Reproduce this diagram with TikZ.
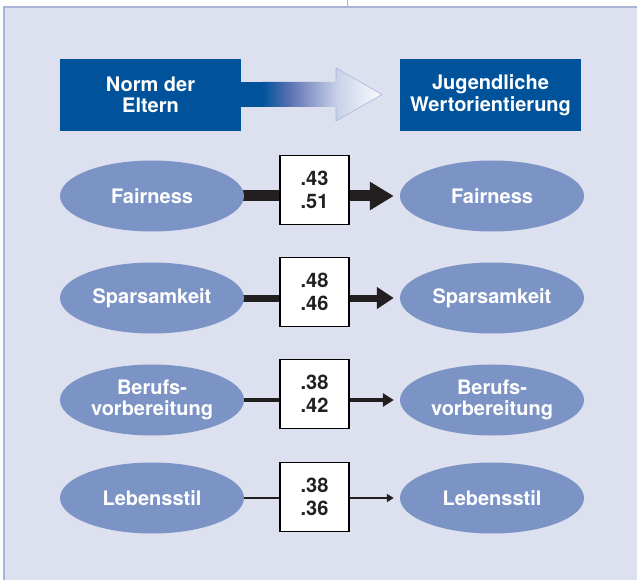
\documentclass[tikz,border=0pt]{standalone}
\usepackage{fontspec}
\setmainfont{TeX Gyre Heros}
\usetikzlibrary{arrows.meta,shapes.geometric}
\definecolor{bgc}{HTML}{DDE0EF}
\definecolor{framec}{HTML}{A9B4D8}
\definecolor{boxblue}{HTML}{00539B}
\definecolor{ellblue}{HTML}{7B93C5}
\definecolor{numtext}{HTML}{231F20}
\definecolor{sA}{HTML}{5C72B2}
\definecolor{sB}{HTML}{A0AED4}
\definecolor{sC}{HTML}{C8D0E8}
\definecolor{sD}{HTML}{E4E8F4}
\definecolor{sE}{HTML}{FAFAFD}
\pgfdeclarehorizontalshading{fadearrow}{100bp}{color(0bp)=(boxblue); color(25bp)=(boxblue); color(36.7bp)=(sA); color(49bp)=(sB); color(56bp)=(sC); color(66bp)=(sD); color(75bp)=(sE); color(100bp)=(sE)}
\pgfdeclarelayer{bglayer}
\pgfdeclarelayer{linelayer}
\pgfsetlayers{bglayer,linelayer,main}
\newcommand\hfont{\fontsize{20}{21.5}\selectfont\bfseries}
\newcommand\nfont{\fontsize{20}{23}\selectfont\bfseries}
\tikzset{
  hdr/.style={fill=boxblue, text=white, minimum width=181pt, minimum height=72pt, inner sep=0pt, align=center, font=\hfont},
  ell/.style={ellipse, fill=ellblue, text=white, minimum width=184pt, minimum height=71pt, inner sep=0pt, align=center, font=\hfont},
  num/.style={draw=black, line width=1.4pt, fill=white, minimum width=69pt, minimum height=69pt, inner sep=0pt, align=center, font=\nfont, text=numtext},
  conn/.style={draw=numtext, line width=#1},
}
\begin{document}
\begin{tikzpicture}[x=1pt,y=-1pt]
\useasboundingbox (0,0) rectangle (637,580);
\begin{pgfonlayer}{bglayer}
\fill[bgc] (4,7) rectangle (637,580);
\draw[framec, line width=1.2pt] (4,580) -- (4,7) -- (637,7);
\draw[framec, line width=1pt] (347,0) -- (347,7);
\end{pgfonlayer}

% header boxes
\node[hdr] (norm) at (150.5,95) {Norm der\\Eltern};
\node[hdr] (jug) at (490.5,95) {Jugendliche\\Wertorientierung};

% gradient arrow
\fill[boxblue] (norm.east) ++(-1,-12.5) rectangle (263,107);
\shade[shading=fadearrow] (262,82) -- (336,82) -- (336,68) -- (382,94.5) -- (336,121) -- (336,107) -- (262,107) -- cycle;
\draw[framec, line width=0.6pt] (336,82) -- (336,68) -- (382,94.5) -- (336,121) -- (336,107);

% rows
\node[ell] (l1) at (152,196) {Fairness};
\node[ell] (r1) at (492,196) {Fairness};
\node[num] (b1) at (314.5,190) {.43\\.51};

\node[ell] (l2) at (152,298) {Sparsamkeit};
\node[ell] (r2) at (492,298) {Sparsamkeit};
\node[num] (b2) at (314.5,292) {.48\\.46};

\node[ell] (l3) at (152,400) {Berufs-\\vorbereitung};
\node[ell] (r3) at (492,400) {Berufs-\\vorbereitung};
\node[num] (b3) at (314.5,394) {.38\\.42};

\node[ell] (l4) at (152,498) {Lebensstil};
\node[ell] (r4) at (492,498) {Lebensstil};
\node[num] (b4) at (314.5,497) {.38\\.36};

\begin{pgfonlayer}{linelayer}
\draw[conn=11pt] (l1.center) -- (l1.center -| b1.center);
\draw[conn=11pt, -{Triangle[length=24pt,width=27pt]}, shorten >=6pt] (b1.center |- r1.west) -- (r1.west);
\draw[conn=7pt] (l2.center) -- (l2.center -| b2.center);
\draw[conn=7pt, -{Triangle[length=17pt,width=21pt]}, shorten >=6pt] (b2.center |- r2.west) -- (r2.west);
\draw[conn=4.5pt] (l3.center) -- (l3.center -| b3.center);
\draw[conn=4.5pt, -{Triangle[length=11pt,width=13pt]}, shorten >=6pt] (b3.center |- r3.west) -- (r3.west);
\draw[conn=2.2pt] (l4.center) -- (l4.center -| b4.center);
\draw[conn=2.2pt, -{Triangle[length=7pt,width=8pt]}, shorten >=6pt] (b4.center |- r4.west) -- (r4.west);
\end{pgfonlayer}
\end{tikzpicture}
\end{document}
